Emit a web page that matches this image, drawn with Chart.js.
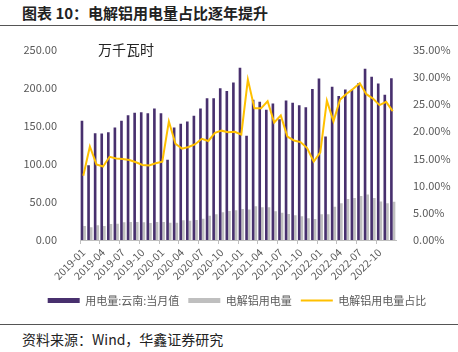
<!DOCTYPE html>
<html>
<head>
<meta charset="utf-8">
<script src="https://cdn.jsdelivr.net/npm/chart.js@4"></script>
<style>
  html, body { margin: 0; padding: 0; background: #fff; overflow: hidden; }
  body { width: 458px; height: 352px; position: relative; font-family: "Noto Sans CJK SC", sans-serif; }
  .title { position: absolute; left: 22px; top: 2px; font-size: 15px; font-weight: bold; color: #222; }
  .rule { position: absolute; left: 0; width: 458px; height: 0; border-top: 1.5px solid #555; }
  .unit { position: absolute; left: 98px; top: 39px; font-size: 14px; color: #222; }
  .source { position: absolute; left: 22px; top: 329px; font-size: 14px; color: #222; }
  #wrap { position: absolute; left: 0; top: 28px; width: 474px; height: 296px; }
</style>
</head>
<body>
<div class="title">图表 10：电解铝用电量占比逐年提升</div>
<div class="rule" style="top:25px"></div>
<div id="wrap"><canvas id="chart"></canvas></div>
<div class="unit">万千瓦时</div>
<div class="rule" style="top:324px"></div>
<div class="source">资料来源：Wind，华鑫证券研究</div>
<script>
// months 2019-01 .. 2022-12
const months = [
  '2019-01','2019-02','2019-03','2019-04','2019-05','2019-06','2019-07','2019-08','2019-09','2019-10','2019-11','2019-12',
  '2020-01','2020-02','2020-03','2020-04','2020-05','2020-06','2020-07','2020-08','2020-09','2020-10','2020-11','2020-12',
  '2021-01','2021-02','2021-03','2021-04','2021-05','2021-06','2021-07','2021-08','2021-09','2021-10','2021-11','2021-12',
  '2022-01','2022-02','2022-03','2022-04','2022-05','2022-06','2022-07','2022-08','2022-09','2022-10','2022-11','2022-12'
];

// 用电量:云南:当月值 (万千瓦时)
const yunnanPower = [
  156.5, 98.3, 140.2, 139.8, 141.5, 147.7, 156.5, 163.9, 167.0, 167.8, 166.4, 172.6,
  166.4, 105.3, 147.7, 152.5, 155.6, 163.0, 172.6, 186.1, 186.1, 199.2, 195.8, 206.7,
  226.3, 136.8, 184.0, 181.4, 170.9, 179.2, 158.6, 183.1, 180.1, 176.9, 174.3, 198.4,
  212.1, 135.9, 201.2, 189.2, 197.7, 197.1, 205.8, 225.0, 214.5, 205.4, 190.8, 212.3
];

// 电解铝用电量
const aluminumPower = [
  18.4, 16.6, 19.3, 18.4, 21.0, 21.4, 23.2, 23.6, 23.6, 23.2, 22.3, 23.6,
  23.6, 22.8, 22.8, 25.8, 25.4, 26.2, 28.0, 32.0, 33.7, 36.3, 38.0, 38.9,
  40.6, 40.2, 44.2, 42.9, 42.9, 37.6, 35.9, 34.1, 32.4, 31.1, 28.4, 27.5,
  33.7, 33.7, 43.7, 48.1, 53.7, 55.0, 57.7, 59.9, 55.0, 50.7, 48.1, 50.3
];

// 电解铝用电量占比 (%)
const aluminumShare = [
  11.8, 17.2, 13.9, 13.5, 15.3, 15.0, 14.9, 14.7, 14.3, 13.8, 13.7, 14.1,
  14.4, 21.8, 17.7, 16.8, 17.1, 17.6, 18.6, 18.2, 19.7, 20.1, 19.8, 19.9,
  19.4, 29.5, 24.2, 24.2, 25.5, 21.6, 22.9, 19.0, 18.3, 18.0, 16.9, 14.4,
  16.1, 25.6, 21.8, 25.8, 26.9, 27.8, 28.8, 26.8, 26.0, 24.8, 25.4, 23.7
];

const purple = '#48306E';
const grey = '#BFBFBF';
const gold = '#FFC000';
const tickColor = '#595959';
const tickFont = { family: '"Noto Sans CJK SC", sans-serif', size: 11 };

const ctx = document.getElementById('chart').getContext('2d');
new Chart(ctx, {
  data: {
    labels: months,
    datasets: [
      {
        type: 'bar',
        label: '用电量:云南:当月值',
        data: yunnanPower,
        backgroundColor: purple,
        yAxisID: 'y',
        categoryPercentage: 0.8,
        barPercentage: 1.0,
        order: 2
      },
      {
        type: 'bar',
        label: '电解铝用电量',
        data: aluminumPower,
        backgroundColor: grey,
        yAxisID: 'y',
        categoryPercentage: 0.8,
        barPercentage: 1.0,
        order: 3
      },
      {
        type: 'line',
        label: '电解铝用电量占比',
        data: aluminumShare,
        borderColor: gold,
        backgroundColor: gold,
        borderWidth: 2,
        pointRadius: 0,
        tension: 0,
        yAxisID: 'y1',
        order: 1
      }
    ]
  },
  options: {
    responsive: true,
    maintainAspectRatio: false,
    animation: false,
    layout: { padding: { top: 19, bottom: 8, left: 0, right: 0 } },
    plugins: {
      legend: {
        position: 'bottom',
        labels: {
          usePointStyle: true,
          pointStyleWidth: 32,
          boxHeight: 5,
          padding: 9,
          color: tickColor,
          font: { family: '"Noto Sans CJK SC", sans-serif', size: 11 },
          generateLabels: (chart) => {
            const items = Chart.defaults.plugins.legend.labels.generateLabels(chart);
            items.sort((a, b) => a.datasetIndex - b.datasetIndex);
            items.forEach((it) => {
              if (it.datasetIndex === 2) {
                it.pointStyle = 'line';
                it.lineWidth = 2;
                it.strokeStyle = gold;
              } else {
                it.pointStyle = 'rect';
                it.lineWidth = 0;
              }
            });
            return items;
          }
        }
      },
      tooltip: { enabled: false }
    },
    scales: {
      x: {
        offset: true,
        grid: {
          offset: true,
          drawOnChartArea: false,
          drawTicks: true,
          tickLength: 4,
          color: (c) => (c.index % 3 === 0 ? '#BFBFBF' : 'rgba(0,0,0,0)')
        },
        border: { color: '#BFBFBF' },
        ticks: {
          autoSkip: false,
          maxRotation: 45,
          minRotation: 45,
          padding: 2,
          color: tickColor,
          font: { family: '"Noto Sans CJK SC", sans-serif', size: 10.5 },
          callback: function (val, idx) {
            return idx % 3 === 0 ? this.getLabelForValue(val) : '';
          }
        },
        afterFit: (scale) => { scale.height = 46; }
      },
      y: {
        position: 'left',
        min: 0,
        max: 250,
        grid: { display: false },
        border: { display: false },
        ticks: {
          stepSize: 50,
          padding: 15,
          color: tickColor,
          font: tickFont,
          callback: (v) => v.toFixed(2)
        },
        afterFit: (scale) => { scale.width = 80; }
      },
      y1: {
        position: 'right',
        min: 0,
        max: 35,
        grid: { display: false },
        border: { display: false },
        ticks: {
          stepSize: 5,
          padding: 9,
          color: tickColor,
          font: tickFont,
          callback: (v) => v.toFixed(2) + '%'
        },
        afterFit: (scale) => { scale.width = 78; }
      }
    }
  }
});
</script>
</body>
</html>
